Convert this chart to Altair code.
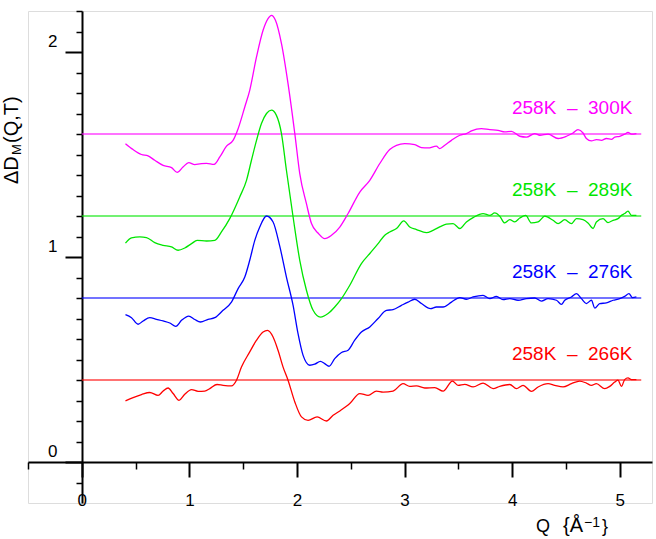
import altair as alt
import pandas as pd

FONT = "Liberation Sans"
NB = "\u00a0"

# Temperature-difference curves, their baseline offsets and colours
series = ["266K", "276K", "289K", "300K"]
labels = [f"258K{NB}{NB}\u2013{NB}{NB}{t}" for t in series]
levels = [0.4, 0.8, 1.2, 1.6]
colors = ["#ff0000", "#0000ff", "#00e600", "#ff00ff"]
label_q = 5.118
line_end_q = 5.2

q_266 = [0.406, 0.477, 0.555, 0.632, 0.709, 0.756, 0.802, 0.849, 0.904, 0.957, 1.020, 1.081, 1.143,
         1.190, 1.257, 1.313, 1.391, 1.438, 1.484, 1.561, 1.624, 1.685, 1.726, 1.778, 1.824, 1.871,
         1.917, 1.980, 2.042, 2.103, 2.187, 2.274, 2.336, 2.398, 2.491, 2.584, 2.661, 2.739, 2.800,
         2.893, 2.986, 3.048, 3.111, 3.188, 3.281, 3.358, 3.445, 3.497, 3.559, 3.637, 3.730, 3.823,
         3.885, 3.978, 4.040, 4.101, 4.179, 4.241, 4.334, 4.396, 4.473, 4.551, 4.628, 4.690, 4.737,
         4.783, 4.861, 4.907, 4.954, 4.984, 5.016, 5.046, 5.077, 5.109, 5.155]
d_266 = [0.298, 0.314, 0.329, 0.339, 0.325, 0.346, 0.361, 0.334, 0.301, 0.330, 0.353, 0.345, 0.346,
         0.358, 0.378, 0.374, 0.371, 0.399, 0.463, 0.537, 0.594, 0.634, 0.642, 0.610, 0.545, 0.463,
         0.399, 0.293, 0.220, 0.203, 0.220, 0.200, 0.228, 0.249, 0.285, 0.334, 0.325, 0.346, 0.341,
         0.346, 0.382, 0.369, 0.371, 0.361, 0.363, 0.346, 0.395, 0.374, 0.379, 0.366, 0.385, 0.358,
         0.369, 0.378, 0.358, 0.374, 0.345, 0.366, 0.382, 0.374, 0.366, 0.382, 0.395, 0.385, 0.374,
         0.382, 0.358, 0.369, 0.390, 0.399, 0.369, 0.402, 0.410, 0.402, 0.402]

q_276 = [0.406, 0.462, 0.523, 0.570, 0.632, 0.694, 0.756, 0.818, 0.874, 0.927, 0.994, 1.050, 1.103,
         1.174, 1.236, 1.313, 1.391, 1.453, 1.515, 1.561, 1.608, 1.654, 1.717, 1.778, 1.840, 1.902,
         1.964, 2.010, 2.057, 2.119, 2.165, 2.218, 2.258, 2.298, 2.351, 2.414, 2.475, 2.537, 2.599,
         2.677, 2.754, 2.832, 2.893, 2.971, 3.033, 3.095, 3.157, 3.241, 3.296, 3.358, 3.436, 3.513,
         3.575, 3.637, 3.730, 3.792, 3.854, 3.915, 3.978, 4.055, 4.133, 4.210, 4.272, 4.334, 4.412,
         4.458, 4.489, 4.551, 4.598, 4.644, 4.690, 4.737, 4.768, 4.814, 4.876, 4.938, 5.000, 5.046,
         5.086, 5.118, 5.155]
d_276 = [0.719, 0.704, 0.672, 0.688, 0.704, 0.696, 0.688, 0.678, 0.662, 0.691, 0.712, 0.695, 0.683,
         0.696, 0.704, 0.740, 0.780, 0.846, 0.902, 0.984, 1.081, 1.146, 1.200, 1.171, 1.053, 0.902,
         0.764, 0.626, 0.520, 0.472, 0.477, 0.491, 0.480, 0.467, 0.504, 0.534, 0.545, 0.594, 0.634,
         0.659, 0.700, 0.740, 0.743, 0.764, 0.780, 0.794, 0.773, 0.748, 0.756, 0.756, 0.780, 0.802,
         0.794, 0.805, 0.813, 0.797, 0.808, 0.792, 0.797, 0.789, 0.797, 0.800, 0.785, 0.797, 0.789,
         0.769, 0.789, 0.805, 0.821, 0.797, 0.773, 0.789, 0.751, 0.773, 0.776, 0.789, 0.797, 0.808,
         0.821, 0.802, 0.805]

q_289 = [0.406, 0.462, 0.539, 0.601, 0.678, 0.756, 0.834, 0.895, 0.957, 1.020, 1.072, 1.159, 1.236,
         1.298, 1.375, 1.468, 1.531, 1.577, 1.624, 1.670, 1.717, 1.763, 1.809, 1.856, 1.902, 1.964,
         2.026, 2.088, 2.150, 2.218, 2.289, 2.351, 2.414, 2.491, 2.599, 2.677, 2.754, 2.816, 2.862,
         2.925, 2.993, 3.048, 3.111, 3.203, 3.265, 3.343, 3.389, 3.451, 3.513, 3.575, 3.637, 3.730,
         3.792, 3.838, 3.885, 3.931, 3.978, 4.024, 4.071, 4.126, 4.179, 4.241, 4.303, 4.380, 4.427,
         4.489, 4.551, 4.598, 4.659, 4.705, 4.752, 4.783, 4.845, 4.891, 4.938, 4.984, 5.016, 5.046,
         5.077, 5.109, 5.155]
d_289 = [1.068, 1.093, 1.098, 1.095, 1.070, 1.057, 1.049, 1.033, 1.044, 1.065, 1.081, 1.078, 1.081,
         1.122, 1.187, 1.293, 1.374, 1.472, 1.569, 1.651, 1.700, 1.716, 1.691, 1.602, 1.423, 1.195,
         0.984, 0.838, 0.740, 0.707, 0.724, 0.756, 0.797, 0.862, 0.968, 1.017, 1.065, 1.106, 1.122,
         1.139, 1.176, 1.146, 1.134, 1.119, 1.130, 1.151, 1.160, 1.163, 1.139, 1.171, 1.192, 1.212,
         1.203, 1.215, 1.199, 1.166, 1.182, 1.171, 1.190, 1.203, 1.166, 1.171, 1.199, 1.179, 1.163,
         1.182, 1.163, 1.187, 1.182, 1.166, 1.139, 1.171, 1.187, 1.168, 1.179, 1.187, 1.203, 1.212,
         1.224, 1.203, 1.203]

q_300 = [0.406, 0.477, 0.555, 0.616, 0.678, 0.756, 0.834, 0.886, 0.941, 0.994, 1.050, 1.097, 1.159,
         1.230, 1.283, 1.345, 1.406, 1.453, 1.515, 1.561, 1.624, 1.685, 1.731, 1.763, 1.800, 1.856,
         1.917, 1.980, 2.026, 2.088, 2.135, 2.196, 2.258, 2.321, 2.398, 2.475, 2.584, 2.677, 2.770,
         2.862, 2.925, 3.002, 3.095, 3.157, 3.218, 3.296, 3.327, 3.374, 3.436, 3.513, 3.575, 3.622,
         3.715, 3.792, 3.869, 3.931, 3.993, 4.071, 4.133, 4.210, 4.257, 4.334, 4.427, 4.505, 4.566,
         4.612, 4.659, 4.690, 4.737, 4.783, 4.830, 4.876, 4.923, 4.954, 5.000, 5.046, 5.077, 5.109,
         5.155]
d_300 = [1.553, 1.524, 1.500, 1.493, 1.472, 1.447, 1.436, 1.413, 1.439, 1.460, 1.451, 1.454, 1.457,
         1.452, 1.488, 1.541, 1.569, 1.626, 1.732, 1.813, 1.976, 2.106, 2.163, 2.179, 2.155, 2.041,
         1.846, 1.602, 1.407, 1.260, 1.163, 1.117, 1.090, 1.106, 1.146, 1.212, 1.317, 1.374, 1.456,
         1.524, 1.545, 1.553, 1.548, 1.534, 1.532, 1.541, 1.529, 1.545, 1.569, 1.594, 1.602, 1.615,
         1.626, 1.621, 1.618, 1.610, 1.613, 1.589, 1.585, 1.602, 1.594, 1.599, 1.578, 1.589, 1.605,
         1.621, 1.605, 1.578, 1.566, 1.573, 1.569, 1.578, 1.574, 1.585, 1.589, 1.599, 1.608, 1.599,
         1.602]

# Axis tick positions (major ticks carry labels)
x_ticks = [-0.5, 0, 0.5, 1, 1.5, 2, 2.5, 3, 3.5, 4, 4.5, 5]
y_ticks = [-0.1, 0, 0.1, 0.2, 0.3, 0.4, 0.5, 0.6, 0.7, 0.8, 0.9, 1, 1.1, 1.2, 1.3, 1.4, 1.5,
           1.6, 1.7, 1.8, 1.9, 2, 2.1, 2.2]

rows = []
for name, qs, ds in zip(series, [q_266, q_276, q_289, q_300], [d_266, d_276, d_289, d_300]):
    rows += [{"series": name, "Q": q, "D": d} for q, d in zip(qs, ds)]
curves = pd.DataFrame(rows)

refs = pd.DataFrame({
    "series": series,
    "level": levels,
    "label": labels,
    "q0": [0.0] * 4,
    "q1": [line_end_q] * 4,
    "lq": [label_q] * 4,
    "ly": [lv + 0.1 for lv in levels],
})

xscale = alt.Scale(domain=[-0.5, 5.3], nice=False, zero=False)
yscale = alt.Scale(domain=[-0.2, 2.2], nice=False, zero=False)
cscale = alt.Scale(domain=series, range=colors)

is_int = "abs(datum.value - round(datum.value)) < 0.001"


def axis(values, offset, tick_len, minor_len, **extra):
    # Minor ticks are the first stretch of a dashed full-length tick
    return alt.Axis(
        values=values, title=None, grid=False, offset=offset,
        domainColor="black", domainWidth=2, tickColor="black",
        tickSize=tick_len,
        tickWidth={"condition": {"test": is_int, "value": 2}, "value": 1.5},
        tickDash={"condition": {"test": is_int, "value": [tick_len, 0]}, "value": [minor_len, 40]},
        labelExpr=f"{is_int} ? format(datum.value, 'd') : ''",
        labelFont=FONT, labelFontSize=17, labelColor="black",
        labelFlush=False, labelOverlap=False, **extra,
    )


xaxis = axis(x_ticks, -41, 15, 7, labelPadding=15, labelBaseline="top")
yaxis = axis(y_ticks, -54, 17, 6, labelPadding=8, labelBaseline="alphabetic", labelOffset=-6)

color = alt.Color("series:N", scale=cscale, legend=None)

baselines = alt.Chart(refs).mark_rule(strokeWidth=2, opacity=0.55).encode(
    x=alt.X("q0:Q", scale=xscale, axis=xaxis),
    x2="q1:Q",
    y=alt.Y("level:Q", scale=yscale, axis=yaxis),
    color=color,
)

lines = alt.Chart(curves).mark_line(strokeWidth=1.3, interpolate="monotone").encode(
    x=alt.X("Q:Q", scale=xscale, axis=xaxis),
    y=alt.Y("D:Q", scale=yscale, axis=yaxis),
    color=color,
    order=alt.Order("Q:Q"),
)

tags = alt.Chart(refs).mark_text(align="right", baseline="alphabetic", font=FONT, fontSize=19).encode(
    x=alt.X("lq:Q", scale=xscale, axis=xaxis),
    y=alt.Y("ly:Q", scale=yscale, axis=yaxis),
    text="label:N",
    color=color,
)


def piece(txt, px, py, size, angle=0):
    mark = alt.Chart(pd.DataFrame({"t": [txt]})).mark_text(
        align="left", baseline="alphabetic", font=FONT, fontSize=size, color="black", angle=angle
    )
    return mark.encode(x=alt.value(px), y=alt.value(py), text="t:N")


# Axis titles built from pieces so that the sub- and superscripts sit right
y_title = [
    piece("\u0394D", -10, 173, 20, 270),
    piece("M", -7, 144, 13, 270),
    piece("(Q,T)", -10, 132, 20, 270),
]
x_title = [
    piece("Q", 508, 520.7, 18),
    piece("{\u00c5", 535, 520.7, 20),
    piece("\u22121", 556, 516, 14),
    piece("}", 574, 520.7, 18),
]

chart = alt.layer(baselines, lines, tags, *y_title, *x_title).properties(
    width=624,
    height=492,
    autosize=alt.AutoSizeParams(type="none"),
    padding={"left": 28, "top": 11, "right": 4, "bottom": 36},
).configure_view(strokeWidth=0, stroke="transparent").configure(background="white")

chart.save("out.html", embed_options={"renderer": "svg", "actions": False})
